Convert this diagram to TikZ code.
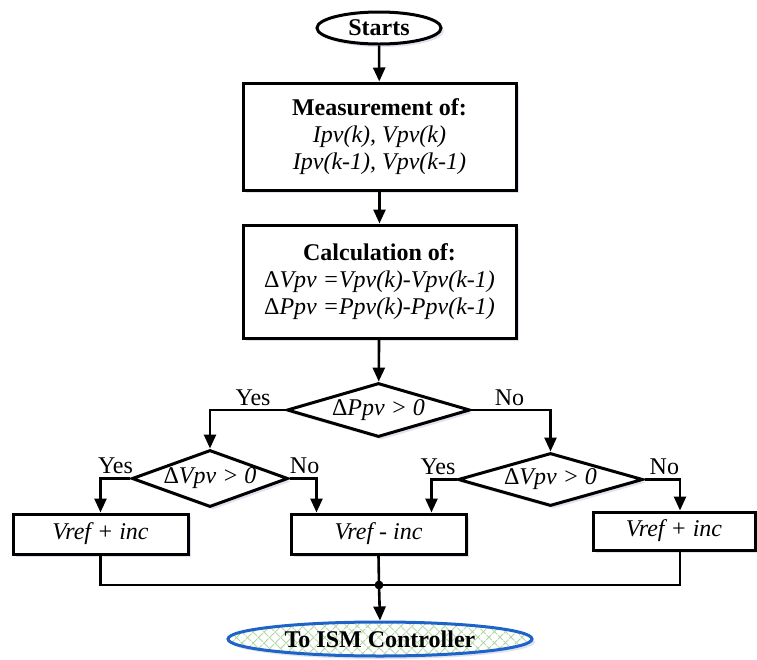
\documentclass[tikz,border=0pt]{standalone}
\usepackage{fontspec}
\setmainfont{Liberation Serif}
\usetikzlibrary{arrows.meta,shapes.geometric,shadows,patterns.meta}

\newcommand{\fs}{\fontsize{12}{13.3}\selectfont}
\definecolor{ismblue}{RGB}{30,100,200}
\definecolor{hatchgreen}{RGB}{175,215,160}

\begin{document}
\begin{tikzpicture}[->, >={Triangle[length=7pt,width=6pt]}, line width=1.3pt, x=0.5pt, y=-0.5pt]
	\tikzstyle{shade}=[drop shadow={shadow xshift=1.5pt,shadow yshift=-1.5pt,opacity=.18,fill=blue!30!gray}]
	\tikzstyle{box}=[rectangle,draw=black,fill=white,line width=1.5pt,align=center,inner sep=2pt,font=\fs,shade]
	\tikzstyle{test}=[diamond,draw=black,fill=white,line width=1.5pt,aspect=3,inner sep=0pt,font=\fs\itshape,shade]
	\tikzstyle{term}=[ellipse,draw=black,fill=white,line width=1.5pt,inner sep=0pt,font=\fs\bfseries,shade]
	\tikzstyle{lab}=[above,inner sep=1.5pt,font=\fs]
	\useasboundingbox (0,0) rectangle (757,660);

	% main column
	\node[term] (st) at (379,28) [minimum width=62pt,minimum height=16pt] {Starts};
	\node[box]  (ms) at (379.5,136.5) [minimum width=136.5pt,minimum height=53.5pt]
		{\textbf{Measurement of:}\\ \textit{Ipv(k), Vpv(k)}\\ \textit{Ipv(k-1), Vpv(k-1)}};
	\node[box]  (cl) at (379.5,281.5) [minimum width=136.5pt,minimum height=56.5pt]
		{\textbf{Calculation of:}\\ \textit{{\upshape Δ}Vpv =Vpv(k)-Vpv(k-1)}\\ \textit{{\upshape Δ}Ppv =Ppv(k)-Ppv(k-1)}};

	% decisions
	\node[test] (d1) at (378.5,410) [minimum width=91.5pt,minimum height=27pt] {{\upshape Δ}Ppv > 0};
	\node[test] (d2) at (210,478.5) [minimum width=78pt,minimum height=28.5pt] {{\upshape Δ}Vpv > 0};
	\node[test] (d3) at (550.5,479.5) [minimum width=92.5pt,minimum height=26.5pt] {{\upshape Δ}Vpv > 0};

	% reference updates
	\node[box] (b1) at (100.5,534) [minimum width=87.5pt,minimum height=20pt] {\textit{Vref + inc}};
	\node[box] (b2) at (378.5,534) [minimum width=87.5pt,minimum height=20pt] {\textit{Vref - inc}};
	\node[box] (b3) at (674,531) [minimum width=81pt,minimum height=19pt] {\textit{Vref + inc}};

	\node[term,draw=ismblue,fill=none,shade/.style={},preaction={fill=white},
		preaction={pattern={Lines[angle=45,distance=4pt,line width=.5pt]},pattern color=hatchgreen},
		preaction={pattern={Lines[angle=-45,distance=4pt,line width=.5pt]},pattern color=hatchgreen}]
		(end) at (380,639) [minimum width=152pt,minimum height=17pt] {To ISM Controller};
	\coordinate (j) at (379,585);

	\path
		(st) edge (ms)
		(ms) edge (cl)
		(cl) edge (d1);
	\draw (d1.west) -| node[lab,pos=.215] {Yes} (d2.north);
	\draw (d1.east) -| node[lab,pos=.24] {No} (d3.north);
	\draw (d2.west) -| node[lab,pos=.25] {Yes} (b1.north);
	\draw (d2.east) -| node[lab,pos=.28] {No} ([xshift=-31pt]b2.north);
	\draw (d3.west) -| node[lab,pos=.37] {Yes} ([xshift=26.5pt]b2.north);
	\draw (d3.east) -| node[lab,pos=.28] {No} ([xshift=3pt]b3.north);

	% merge
	\draw[-] (b1.south) |- (j) -| ([xshift=3pt]b3.south);
	\draw[-] (b2.south) -- (j);
	\fill (j) circle (2.2pt);
	\draw (j) -- (end.north);
\end{tikzpicture}
\end{document}
